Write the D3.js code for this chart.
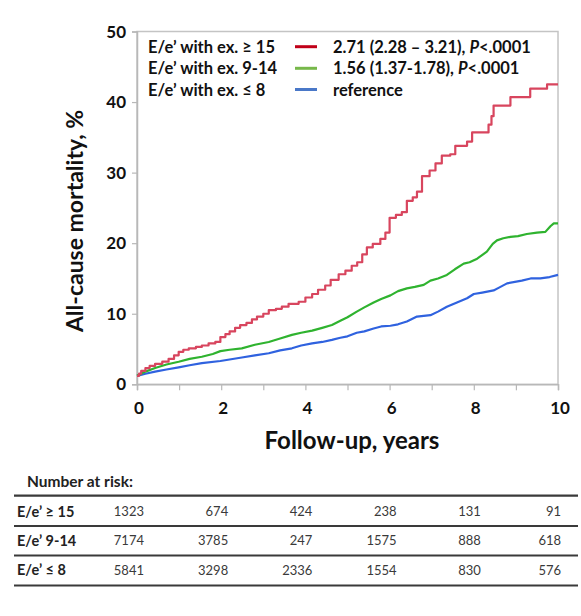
<!DOCTYPE html>
<html>
<head>
<meta charset="utf-8">
<script src="https://cdn.jsdelivr.net/npm/d3@7"></script>
<style>
  html, body { margin: 0; padding: 0; background: #fff; }
  svg { display: block; font-family: Lato, "Open Sans", sans-serif; }
</style>
</head>
<body>
<svg id="chart" width="581" height="616"></svg>
<script>
// ---------- DATA ----------
const xTicks = [0, 2, 4, 6, 8, 10];
const xMinorTicks = [1, 3, 5, 7, 9];
const yTicks = [0, 10, 20, 30, 40, 50];

const seriesNames = ["E/e’ with ex. ≥ 15", "E/e’ with ex. 9-14", "E/e’ with ex. ≤ 8"];
const seriesHR = ["2.71 (2.28 – 3.21), ", "1.56 (1.37-1.78), ", "reference"];
const seriesP = ["P", "P", ""];
const seriesPval = ["<.0001", "<.0001", ""];

// red: step function (time, cumulative mortality %)
const redT = [0,0.05,0.1,0.2,0.3,0.43,0.6,0.75,0.88,0.99,1.1,1.23,1.4,1.54,1.7,1.86,1.98,2.1,2.2,2.33,2.45,2.6,2.73,2.85,3.0,3.13,3.3,3.44,3.6,3.84,4.0,4.16,4.3,4.47,4.6,4.79,4.95,5.1,5.23,5.35,5.46,5.6,5.78,5.9,6.0,6.15,6.29,6.41,6.55,6.65,6.77,6.95,7.09,7.24,7.44,7.56,7.84,7.96,8.35,8.42,8.47,8.87,9.34,9.74,10];
const redV = [1.2,1.5,1.9,2.3,2.6,2.9,3.2,3.6,4.1,4.6,4.9,5.1,5.3,5.5,5.8,6.0,6.7,7.1,7.5,8.0,8.4,8.7,9.2,9.6,10.0,10.5,10.7,11.0,11.4,11.7,12.3,12.8,13.4,14.0,14.8,15.6,16.1,16.8,17.3,18.4,19.4,19.9,20.6,21.5,23.6,24.0,24.4,26.0,26.5,27.3,29.5,30.3,31.3,32.4,32.6,33.8,34.4,35.7,36.8,38.0,39.5,40.7,41.9,42.5,42.5];

const greenT = [0,0.2,0.43,0.7,0.99,1.25,1.54,1.8,1.98,2.2,2.49,2.8,3.13,3.4,3.68,3.9,4.16,4.4,4.63,4.83,5.0,5.22,5.4,5.62,5.8,6.02,6.2,6.41,6.6,6.81,6.97,7.15,7.36,7.55,7.76,7.9,8.08,8.31,8.45,8.55,8.7,8.87,9.05,9.26,9.5,9.7,9.82,9.9,10];
const greenV = [1.2,1.8,2.3,2.8,3.2,3.6,3.9,4.3,4.7,4.9,5.1,5.6,6.0,6.5,7.0,7.3,7.6,8.0,8.4,9.0,9.5,10.3,10.9,11.6,12.1,12.6,13.2,13.6,13.8,14.1,14.7,15.0,15.5,16.3,17.1,17.3,17.8,18.8,19.9,20.4,20.7,20.9,21.0,21.3,21.5,21.6,22.4,22.8,22.8];

const blueT = [0,0.2,0.43,0.7,0.99,1.25,1.54,1.98,2.49,2.8,3.13,3.4,3.68,3.9,4.16,4.4,4.63,4.83,5.0,5.22,5.4,5.62,5.8,6.02,6.2,6.41,6.65,6.97,7.15,7.36,7.6,7.84,8.0,8.2,8.47,8.6,8.79,9.14,9.35,9.58,9.8,10];
const blueV = [1.2,1.5,1.8,2.1,2.4,2.7,3.0,3.3,3.8,4.1,4.4,4.8,5.1,5.5,5.8,6.0,6.3,6.6,6.8,7.3,7.5,7.9,8.2,8.3,8.5,8.9,9.6,9.8,10.3,11.0,11.6,12.2,12.8,13.0,13.3,13.7,14.3,14.7,15.0,15.0,15.2,15.5];

// Number at risk table
const riskTimes = [0, 2, 4, 6, 8, 10];
const riskLabels = ["E/e’ ≥ 15", "E/e’ 9-14", "E/e’ ≤ 8"];
const riskHigh = [1323, 674, 424, 238, 131, 91];
const riskMid = [7174, 3785, 247, 1575, 888, 618];
const riskLow = [5841, 3298, 2336, 1554, 830, 576];

// ---------- STYLE ----------
const lineColors = ["#d8455e", "#2fb32f", "#2f62df"];
const swatchColors = ["#c00018", "#77b84a", "#4a78c8"];

// ---------- SCALES ----------
const svg = d3.select("#chart");
const m = { left: 137, right: 558, top: 31.5, bottom: 384.3 };
const x = d3.scaleLinear().domain([0, 10]).range([m.left, m.right]);
const y = d3.scaleLinear().domain([0, 50]).range([m.bottom, m.top]);

// frame
svg.append("rect")
  .attr("x", m.left).attr("y", m.top)
  .attr("width", m.right - m.left).attr("height", m.bottom - m.top)
  .attr("fill", "none").attr("stroke", "#c4c4c4").attr("stroke-width", 1.5);

// axes
const gx = svg.append("g").attr("transform", `translate(0,${m.bottom})`)
  .call(d3.axisBottom(x).tickValues(xTicks.concat(xMinorTicks)).tickSize(6).tickFormat(""));
gx.select(".domain").attr("stroke", "#b8b8b8").attr("stroke-width", 1.5);
gx.selectAll(".tick line").attr("stroke", "#b8b8b8").attr("stroke-width", 1.2);

const gy = svg.append("g").attr("transform", `translate(${m.left},0)`)
  .call(d3.axisLeft(y).tickValues(yTicks).tickSize(5).tickFormat(""));
gy.select(".domain").attr("stroke", "#b8b8b8").attr("stroke-width", 1.5);
gy.selectAll(".tick line").attr("stroke", "#b8b8b8").attr("stroke-width", 1.2);

// tick labels
svg.append("g").selectAll("text").data(xTicks).join("text")
  .attr("x", d => x(d) + 2).attr("y", 413.5)
  .attr("text-anchor", "middle")
  .attr("font-size", 17).attr("font-weight", "bold").attr("fill", "#111")
  .text(d => d);

svg.append("g").selectAll("text").data(yTicks).join("text")
  .attr("x", 126).attr("y", d => y(d) + 6)
  .attr("text-anchor", "end")
  .attr("font-size", 17).attr("font-weight", "bold").attr("fill", "#111")
  .text(d => d);

// axis titles
svg.append("text")
  .attr("x", 352).attr("y", 449)
  .attr("text-anchor", "middle")
  .attr("font-size", 24).attr("font-weight", "bold").attr("fill", "#111")
  .text("Follow-up, years");

svg.append("text")
  .attr("transform", "translate(83,221) rotate(-90)")
  .attr("text-anchor", "middle")
  .attr("font-size", 23).attr("font-weight", "bold").attr("fill", "#111")
  .text("All-cause mortality, %");

// curves
const toPts = (T, V) => T.map((t, i) => [t, V[i]]);
const series = [
  { pts: toPts(redT, redV), curve: d3.curveStepAfter },
  { pts: toPts(greenT, greenV), curve: d3.curveLinear },
  { pts: toPts(blueT, blueV), curve: d3.curveLinear }
];
const plot = svg.append("g");
[2, 1, 0].forEach(i => {
  const s = series[i];
  plot.append("path")
    .attr("d", d3.line().x(d => x(d[0])).y(d => y(d[1])).curve(s.curve)(s.pts))
    .attr("fill", "none")
    .attr("stroke", lineColors[i])
    .attr("stroke-width", 2.2)
    .attr("stroke-linejoin", "round");
});

// legend
const legendRowY = [46.7, 68.3, 89.5];
const lg = svg.append("g");
seriesNames.forEach((name, i) => {
  const cy = legendRowY[i];
  lg.append("text").attr("x", 148).attr("y", cy + 6)
    .attr("font-size", 16.5).attr("font-weight", "bold").attr("fill", "#111")
    .text(name);
  lg.append("line").attr("x1", 295).attr("x2", 317).attr("y1", cy).attr("y2", cy)
    .attr("stroke", swatchColors[i]).attr("stroke-width", 3);
  const t = lg.append("text").attr("x", 333).attr("y", cy + 6)
    .attr("font-size", 16.5).attr("font-weight", "bold").attr("fill", "#111");
  t.append("tspan").text(seriesHR[i]);
  if (seriesP[i]) {
    t.append("tspan").attr("font-style", "italic").text(seriesP[i]);
    t.append("tspan").text(seriesPval[i]);
  }
});

// number at risk table
svg.append("text").attr("x", 27).attr("y", 487)
  .attr("font-size", 15.5).attr("font-weight", "bold").attr("fill", "#222")
  .text("Number at risk:");

const ruleY = [495.7, 526, 555.5, 585.5];
svg.append("g").selectAll("line").data(ruleY).join("line")
  .attr("x1", 14).attr("x2", 578).attr("y1", d => d).attr("y2", d => d)
  .attr("stroke", "#3a3a3a").attr("stroke-width", 2.2);

const rowY = [511.7, 540.7, 570.2];
const riskRows = [riskHigh, riskMid, riskLow];
riskLabels.forEach((lab, i) => {
  svg.append("text").attr("x", 17).attr("y", rowY[i] + 5)
    .attr("font-size", 14.5).attr("font-weight", "bold").attr("fill", "#222")
    .text(lab);
  svg.append("g").selectAll("text").data(riskRows[i]).join("text")
    .attr("x", (d, j) => x(riskTimes[j]) + 7 - (j === 5 ? 4 : 0))
    .attr("y", rowY[i] + 4.5)
    .attr("text-anchor", "end")
    .attr("font-size", 13).attr("fill", "#3a3a3a")
    .text(d => d);
});
</script>
</body>
</html>
